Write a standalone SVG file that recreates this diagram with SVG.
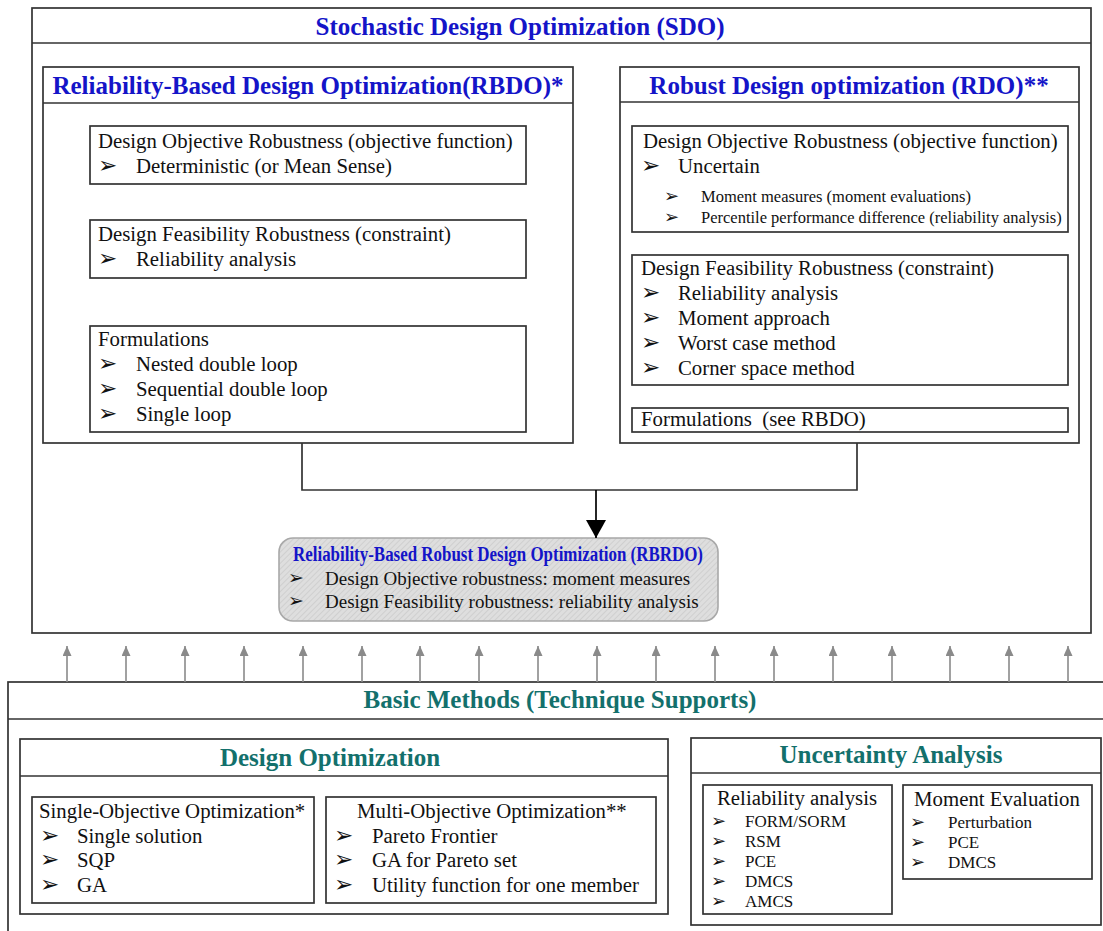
<svg xmlns="http://www.w3.org/2000/svg" width="1103" height="931" viewBox="0 0 1103 931">
<style>
.box{fill:#fff;stroke:#333;stroke-width:1.7}
.ln{fill:none;stroke:#333;stroke-width:1.7}
.t{font-family:"Liberation Serif","Times New Roman",serif;font-size:20.8px;fill:#111}
.s{font-size:16.5px}
.sm{font-size:17px}
.bu{font-family:"DejaVu Sans",sans-serif;font-size:23px;fill:#111}
.bur{font-family:"DejaVu Sans",sans-serif;font-size:19px;fill:#111}
.bus{font-family:"DejaVu Sans",sans-serif;font-size:18px;fill:#111}
.hb{font-family:"Liberation Serif","Times New Roman",serif;font-weight:bold;font-size:25px;fill:#1414c8;text-anchor:middle}
.ht{font-family:"Liberation Serif","Times New Roman",serif;font-weight:bold;font-size:25px;fill:#13706c;text-anchor:middle}
.g{stroke:#8a8a8a;stroke-width:1.6;marker-end:url(#ga)}
</style>
<defs>
<marker id="ga" markerUnits="userSpaceOnUse" markerWidth="10" markerHeight="12" refX="10" refY="4.5" orient="auto"><path d="M0,0 L10,4.5 L0,9 z" fill="#8a8a8a"/></marker>
<marker id="ba" markerUnits="userSpaceOnUse" markerWidth="20" markerHeight="22" refX="18" refY="10" orient="auto"><path d="M0,0 L18,10 L0,20 z" fill="#000"/></marker>
<pattern id="hatch" width="4" height="4" patternUnits="userSpaceOnUse" patternTransform="rotate(45)"><rect width="4" height="4" fill="#dedede"/><line x1="0" y1="0" x2="0" y2="4" stroke="#c6c6c6" stroke-width="1.2"/></pattern>
</defs>

<g id="sdo">
<rect class="box" x="32" y="8" width="1059" height="625"/>
<line class="ln" x1="32" y1="43" x2="1091" y2="43"/>
<text class="hb" x="520" y="35">Stochastic Design Optimization (SDO)</text>
</g>

<g id="rbdo">
<rect class="box" x="43" y="67" width="530" height="376"/>
<line class="ln" x1="43" y1="103" x2="573" y2="103"/>
<text class="hb" x="308" y="94">Reliability-Based Design Optimization(RBDO)*</text>
</g>
<g id="rbdo-objective">
<rect class="box" x="90" y="126" width="436" height="58"/>
<text class="t" x="98" y="148">Design Objective Robustness (objective function)</text>
<text class="bu" x="98" y="173">➢</text><text class="t" x="136" y="173">Deterministic (or Mean Sense)</text>
</g>
<g id="rbdo-feasibility">
<rect class="box" x="90" y="220" width="436" height="58"/>
<text class="t" x="98" y="241">Design Feasibility Robustness (constraint)</text>
<text class="bu" x="98" y="266">➢</text><text class="t" x="136" y="266">Reliability analysis</text>
</g>
<g id="rbdo-formulations">
<rect class="box" x="90" y="326" width="436" height="106"/>
<text class="t" x="98" y="346">Formulations</text>
<text class="bu" x="98" y="371">➢</text><text class="t" x="136" y="371">Nested double loop</text>
<text class="bu" x="98" y="396">➢</text><text class="t" x="136" y="396">Sequential double loop</text>
<text class="bu" x="98" y="421">➢</text><text class="t" x="136" y="421">Single loop</text>
</g>

<g id="rdo">
<rect class="box" x="620" y="67" width="459" height="376"/>
<line class="ln" x1="620" y1="102" x2="1079" y2="102"/>
<text class="hb" x="849" y="94">Robust Design optimization (RDO)**</text>
</g>
<g id="rdo-objective">
<rect class="box" x="632" y="126" width="436" height="106"/>
<text class="t" x="643" y="148">Design Objective Robustness (objective function)</text>
<text class="bu" x="641" y="173">➢</text><text class="t" x="678" y="173">Uncertain</text>
<text class="bus" x="664" y="202">➢</text><text class="t s" x="701" y="202">Moment measures (moment evaluations)</text>
<text class="bus" x="664" y="223">➢</text><text class="t s" x="701" y="223">Percentile performance difference (reliability analysis)</text>
</g>
<g id="rdo-feasibility">
<rect class="box" x="632" y="255" width="436" height="130"/>
<text class="t" x="641" y="275">Design Feasibility Robustness (constraint)</text>
<text class="bu" x="641" y="300">➢</text><text class="t" x="678" y="300">Reliability analysis</text>
<text class="bu" x="641" y="325">➢</text><text class="t" x="678" y="325">Moment approach</text>
<text class="bu" x="641" y="350">➢</text><text class="t" x="678" y="350">Worst case method</text>
<text class="bu" x="641" y="375">➢</text><text class="t" x="678" y="375">Corner space method</text>
</g>
<g id="rdo-formulations">
<rect class="box" x="632" y="408" width="436" height="24"/>
<text class="t" x="641" y="426">Formulations&#160; (see RBDO)</text>
</g>

<g id="rbrdo">
<rect x="279" y="538" width="439" height="83" rx="14" fill="url(#hatch)" stroke="#a8a8a8" stroke-width="1.6"/>
<text class="hb" style="font-size:20px" x="498" y="561" textLength="410" lengthAdjust="spacingAndGlyphs">Reliability-Based Robust Design Optimization (RBRDO)</text>
<text class="bur" x="288" y="584">➢</text><text class="t" style="font-size:19px" x="325" y="585">Design Objective robustness: moment measures</text>
<text class="bur" x="288" y="607">➢</text><text class="t" style="font-size:19px" x="325" y="608">Design Feasibility robustness: reliability analysis</text>
</g>

<g id="basic">
<rect class="box" x="8" y="682" width="1110" height="270"/>
<line class="ln" x1="8" y1="719" x2="1103" y2="719"/>
<text class="ht" x="560" y="708">Basic Methods (Technique Supports)</text>
</g>
<g id="design-opt">
<rect class="box" x="20" y="739" width="648" height="175"/>
<line class="ln" x1="20" y1="776" x2="668" y2="776"/>
<text class="ht" x="330" y="766">Design Optimization</text>
</g>
<g id="single-obj">
<rect class="box" x="32" y="797" width="282" height="106"/>
<text class="t" x="39" y="818">Single-Objective Optimization*</text>
<text class="bu" x="40" y="843">➢</text><text class="t" x="77" y="843">Single solution</text>
<text class="bu" x="40" y="867">➢</text><text class="t" x="77" y="867">SQP</text>
<text class="bu" x="40" y="892">➢</text><text class="t" x="77" y="892">GA</text>
</g>
<g id="multi-obj">
<rect class="box" x="326" y="797" width="330" height="106"/>
<text class="t" x="357" y="818">Multi-Objective Optimization**</text>
<text class="bu" x="334" y="843">➢</text><text class="t" x="372" y="843">Pareto Frontier</text>
<text class="bu" x="334" y="867">➢</text><text class="t" x="372" y="867">GA for Pareto set</text>
<text class="bu" x="334" y="892">➢</text><text class="t" x="372" y="892">Utility function for one member</text>
</g>
<g id="uncertainty">
<rect class="box" x="691" y="738" width="410" height="187"/>
<line class="ln" x1="691" y1="773" x2="1101" y2="773"/>
<text class="ht" x="891" y="763">Uncertainty Analysis</text>
</g>
<g id="reliability">
<rect class="box" x="703" y="785" width="189" height="129"/>
<text class="t" x="797" y="805" text-anchor="middle">Reliability analysis</text>
<text class="bus" x="711" y="827">➢</text><text class="t sm" x="745" y="827">FORM/SORM</text>
<text class="bus" x="711" y="847">➢</text><text class="t sm" x="745" y="847">RSM</text>
<text class="bus" x="711" y="867">➢</text><text class="t sm" x="745" y="867">PCE</text>
<text class="bus" x="711" y="887">➢</text><text class="t sm" x="745" y="887">DMCS</text>
<text class="bus" x="711" y="907">➢</text><text class="t sm" x="745" y="907">AMCS</text>
</g>
<g id="moment">
<rect class="box" x="903" y="785" width="189" height="94"/>
<text class="t" x="997" y="806" text-anchor="middle">Moment Evaluation</text>
<text class="bus" x="910" y="828">➢</text><text class="t sm" x="948" y="828">Perturbation</text>
<text class="bus" x="910" y="848">➢</text><text class="t sm" x="948" y="848">PCE</text>
<text class="bus" x="910" y="868">➢</text><text class="t sm" x="948" y="868">DMCS</text>
</g>

<g id="connectors">
<polyline class="ln" points="302,443 302,490 857,490 857,443"/>
<line x1="596" y1="490" x2="596" y2="538" stroke="#000" stroke-width="1.7" marker-end="url(#ba)"/>
<line class="g" x1="67" y1="682" x2="67" y2="646"/>
<line class="g" x1="126" y1="682" x2="126" y2="646"/>
<line class="g" x1="185" y1="682" x2="185" y2="646"/>
<line class="g" x1="244" y1="682" x2="244" y2="646"/>
<line class="g" x1="303" y1="682" x2="303" y2="646"/>
<line class="g" x1="362" y1="682" x2="362" y2="646"/>
<line class="g" x1="420" y1="682" x2="420" y2="646"/>
<line class="g" x1="479" y1="682" x2="479" y2="646"/>
<line class="g" x1="538" y1="682" x2="538" y2="646"/>
<line class="g" x1="597" y1="682" x2="597" y2="646"/>
<line class="g" x1="656" y1="682" x2="656" y2="646"/>
<line class="g" x1="715" y1="682" x2="715" y2="646"/>
<line class="g" x1="774" y1="682" x2="774" y2="646"/>
<line class="g" x1="833" y1="682" x2="833" y2="646"/>
<line class="g" x1="892" y1="682" x2="892" y2="646"/>
<line class="g" x1="950" y1="682" x2="950" y2="646"/>
<line class="g" x1="1009" y1="682" x2="1009" y2="646"/>
<line class="g" x1="1068" y1="682" x2="1068" y2="646"/>
</g>
</svg>
